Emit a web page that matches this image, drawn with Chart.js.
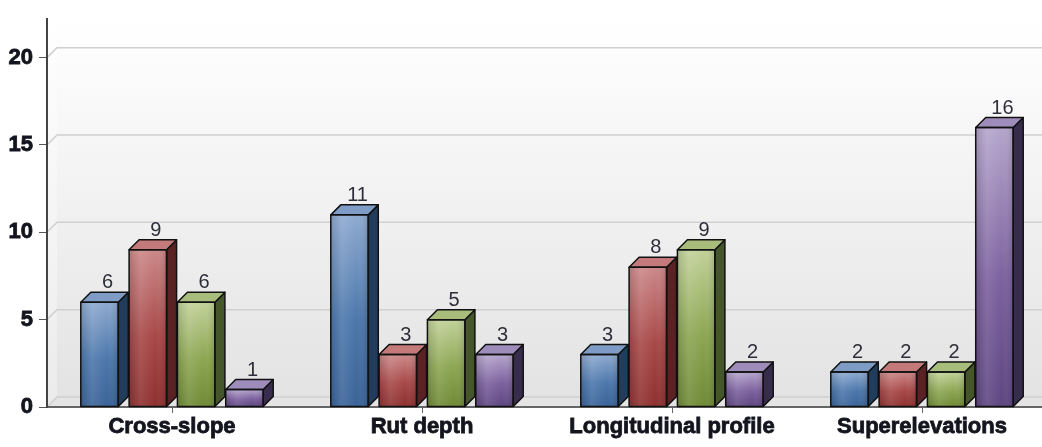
<!DOCTYPE html>
<html>
<head>
<meta charset="utf-8">
<script src="https://cdn.jsdelivr.net/npm/chart.js@4/dist/chart.umd.min.js"></script>
<style>
  html, body { margin: 0; padding: 0; background: #fff; overflow: hidden; }
  #wrap { position: absolute; left: 0; top: 0; width: 1048px; height: 447px; }
</style>
</head>
<body>
<div id="wrap"><canvas id="chart"></canvas></div>
<script>
// Counts per survey type, four series per category.
const categories = ['Cross-slope', 'Rut depth', 'Longitudinal profile', 'Superelevations'];
const seriesBlue = [6, 11, 3, 2];
const seriesRed = [9, 3, 8, 2];
const seriesGreen = [6, 5, 9, 2];
const seriesPurple = [1, 3, 2, 16];
const yTicks = [0, 5, 10, 15, 20];

const DEPTH = 10;
const axisFont = { family: '"Liberation Sans", Arial, sans-serif', size: 22, weight: 'bold' };

const palettes = [
  { light: '#8eaad0', mid: '#4c77ab', dark: '#3a6398', side: '#223c5c', top: '#7e9cc6' },
  { light: '#cc8888', mid: '#a84848', dark: '#8e3030', side: '#5a2222', top: '#c47a7a' },
  { light: '#c2d29a', mid: '#8ca652', dark: '#6f8a36', side: '#44562a', top: '#a8bd7c' },
  { light: '#b5a5cc', mid: '#7c619e', dark: '#5e4680', side: '#382c4c', top: '#9e8cba' },
];

// Back wall, side wall, floor and the wall grid lines.
const wallPlugin = {
  id: 'wall',
  beforeDraw(chart) {
    const { ctx, chartArea: a, scales: { y } } = chart;
    ctx.save();
    const g = ctx.createLinearGradient(0, a.top, 0, a.bottom);
    g.addColorStop(0, '#ffffff');
    g.addColorStop(1, '#e2e2e2');
    ctx.fillStyle = g;
    ctx.fillRect(a.left + DEPTH, 0, a.right - a.left - DEPTH, a.bottom - DEPTH);

    const gl = ctx.createLinearGradient(0, a.top, 0, a.bottom);
    gl.addColorStop(0, '#ffffff');
    gl.addColorStop(1, '#ebebeb');
    ctx.fillStyle = gl;
    ctx.beginPath();
    ctx.moveTo(a.left, a.top);
    ctx.lineTo(a.left + DEPTH, a.top - DEPTH);
    ctx.lineTo(a.left + DEPTH, a.bottom - DEPTH);
    ctx.lineTo(a.left, a.bottom);
    ctx.closePath();
    ctx.fill();

    ctx.fillStyle = '#e4e4e4';
    ctx.beginPath();
    ctx.moveTo(a.left, a.bottom);
    ctx.lineTo(a.left + DEPTH, a.bottom - DEPTH);
    ctx.lineTo(a.right, a.bottom - DEPTH);
    ctx.lineTo(a.right, a.bottom);
    ctx.closePath();
    ctx.fill();

    ctx.strokeStyle = '#d0d0d0';
    ctx.lineWidth = 1.5;
    yTicks.forEach((v) => {
      const py = y.getPixelForValue(v);
      ctx.beginPath();
      ctx.moveTo(a.left, py);
      ctx.lineTo(a.left + DEPTH, py - DEPTH);
      ctx.lineTo(a.right, py - DEPTH);
      ctx.stroke();
    });
    ctx.restore();
  }
};

function draw3dBar(ctx, L, R, top, base, p) {
  // front face
  const fg = ctx.createLinearGradient(0, top, 0, base);
  fg.addColorStop(0, p.light);
  fg.addColorStop(0.55, p.mid);
  fg.addColorStop(1, p.dark);
  ctx.fillStyle = fg;
  ctx.fillRect(L, top, R - L, base - top);
  const hg = ctx.createLinearGradient(L, 0, R, 0);
  hg.addColorStop(0, 'rgba(0,0,0,0.12)');
  hg.addColorStop(0.3, 'rgba(255,255,255,0.10)');
  hg.addColorStop(0.7, 'rgba(255,255,255,0)');
  hg.addColorStop(1, 'rgba(0,0,0,0.14)');
  ctx.fillStyle = hg;
  ctx.fillRect(L, top, R - L, base - top);

  // side face
  ctx.fillStyle = p.side;
  ctx.beginPath();
  ctx.moveTo(R, top);
  ctx.lineTo(R + DEPTH, top - DEPTH);
  ctx.lineTo(R + DEPTH, base - DEPTH);
  ctx.lineTo(R, base);
  ctx.closePath();
  ctx.fill();
  ctx.stroke();

  // top face
  ctx.fillStyle = p.top;
  ctx.beginPath();
  ctx.moveTo(L, top);
  ctx.lineTo(L + DEPTH, top - DEPTH);
  ctx.lineTo(R + DEPTH, top - DEPTH);
  ctx.lineTo(R, top);
  ctx.closePath();
  ctx.fill();
  ctx.stroke();

  ctx.strokeRect(L, top, R - L, base - top);
}

const barPlugin = {
  id: 'bars3d',
  afterDatasetsDraw(chart) {
    const ctx = chart.ctx;
    const metas = chart.data.datasets.map((_, i) => chart.getDatasetMeta(i));
    const labels = [];
    ctx.save();
    ctx.strokeStyle = '#111';
    ctx.lineWidth = 1.5;
    ctx.lineJoin = 'round';
    for (let j = 0; j < categories.length; j++) {
      metas.forEach((meta, i) => {
        const bar = meta.data[j];
        const { x, y, base, width } = bar.getProps(['x', 'y', 'base', 'width'], true);
        draw3dBar(ctx, x - width / 2, x + width / 2, y, base, palettes[i]);
        labels.push({ x: x + DEPTH / 2 + 3, y: y - DEPTH - 4, text: chart.data.datasets[i].data[j] });
      });
    }
    ctx.font = '20px "Liberation Sans", Arial, sans-serif';
    ctx.fillStyle = '#2e2e3a';
    ctx.textAlign = 'center';
    ctx.textBaseline = 'alphabetic';
    labels.forEach((l) => ctx.fillText(String(l.text), l.x, l.y));
    ctx.restore();
  }
};

new Chart(document.getElementById('chart'), {
  type: 'bar',
  data: {
    labels: categories,
    datasets: [
      { label: 'Series 1', data: seriesBlue },
      { label: 'Series 2', data: seriesRed },
      { label: 'Series 3', data: seriesGreen },
      { label: 'Series 4', data: seriesPurple },
    ].map((d) => Object.assign(d, {
      backgroundColor: 'rgba(0,0,0,0)', borderWidth: 0,
      categoryPercentage: 0.773, barPercentage: 0.776
    }))
  },
  options: {
    responsive: true,
    maintainAspectRatio: false,
    animation: false,
    layout: { padding: { top: 8, right: 1, left: 0, bottom: 0 } },
    plugins: { legend: { display: false }, tooltip: { enabled: false } },
    scales: {
      x: {
        offset: true,
        grid: { drawOnChartArea: false, offset: false, tickLength: 6, color: '#666', lineWidth: 1 },
        border: { color: '#666', width: 2 },
        ticks: {
          font: axisFont, color: '#14141e', padding: 1, maxRotation: 0, autoSkip: false,
          textStrokeColor: '#14141e', textStrokeWidth: 0.8
        },
        afterFit: (s) => { s.height = 40; }
      },
      y: {
        min: 0,
        max: 22.2,
        afterBuildTicks: (s) => { s.ticks = yTicks.map((v) => ({ value: v })); },
        grid: { drawOnChartArea: false, tickLength: 8, color: '#555' },
        border: { color: '#444', width: 2 },
        ticks: { font: axisFont, color: '#14141e', padding: 6, textStrokeColor: '#14141e', textStrokeWidth: 0.8 },
        afterFit: (s) => { s.width = 47; }
      }
    }
  },
  plugins: [wallPlugin, barPlugin]
});
</script>
</body>
</html>
